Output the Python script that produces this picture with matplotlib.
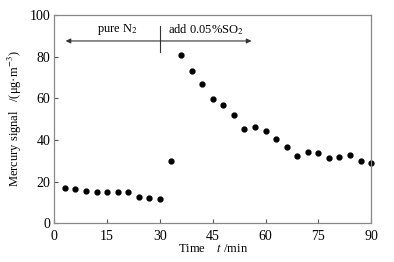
import matplotlib
matplotlib.use('Agg')
import matplotlib.pyplot as plt

# sampling times (min) and mercury signal (ug/m3)
time_min = [3, 6, 9, 12, 15, 18, 21, 24, 27, 30,
            33, 36, 39, 42, 45, 48, 51, 54, 57, 60,
            63, 66, 69, 72, 75, 78, 81, 84, 87, 90]
mercury = [17.1, 16.2, 15.7, 15.0, 15.0, 15.0, 14.9, 12.8, 12.0, 11.8,
           30.1, 80.6, 73.1, 67.0, 59.8, 56.9, 51.9, 45.3, 46.2, 44.5,
           40.5, 36.8, 32.4, 34.4, 33.5, 31.2, 31.9, 32.7, 29.8, 29.0]

x_ticks = [0, 15, 30, 45, 60, 75, 90]
y_ticks = [0, 20, 40, 60, 80, 100]

plt.rcParams['font.family'] = 'Liberation Serif'
plt.rcParams['mathtext.fontset'] = 'stix'
plt.rcParams['font.size'] = 9

fig = plt.figure(figsize=(3.94, 2.62), dpi=100)
ax = fig.add_axes([0.138, 0.148, 0.804, 0.795])

ax.plot(time_min, mercury, 'o', color='black', markersize=3.5, clip_on=False)

ax.set_xlim(0, 90)
ax.set_ylim(0, 100)
ax.set_xticks(x_ticks)
ax.set_yticks(y_ticks)
ax.tick_params(direction='in', length=3, width=0.8, color='#555555',
               labelsize=10)
ax.tick_params(axis='x', pad=5)
ax.tick_params(axis='y', pad=3)
for s in ax.spines.values():
    s.set_color('#888888')
    s.set_linewidth(0.9)

ax.set_xlabel('Time    $\\mathit{t}$ /min', labelpad=0)
ax.set_ylabel('Mercury signal   /(μg·m$^{-3}$)', labelpad=4)

# gas switching annotation
ax.annotate('', xy=(3.2, 87.5), xytext=(56, 87.5),
            arrowprops=dict(arrowstyle='<|-|>', color='#333333', lw=0.8,
                            mutation_scale=7, shrinkA=0, shrinkB=0))
ax.plot([30, 30], [82, 94.5], color='#333333', lw=0.8)
ax.text(18, 89.5, 'pure N$_2$', ha='center', va='bottom')
ax.text(43, 89.5, 'add 0.05%SO$_2$', ha='center', va='bottom')

fig.savefig('out.png', dpi=100)
